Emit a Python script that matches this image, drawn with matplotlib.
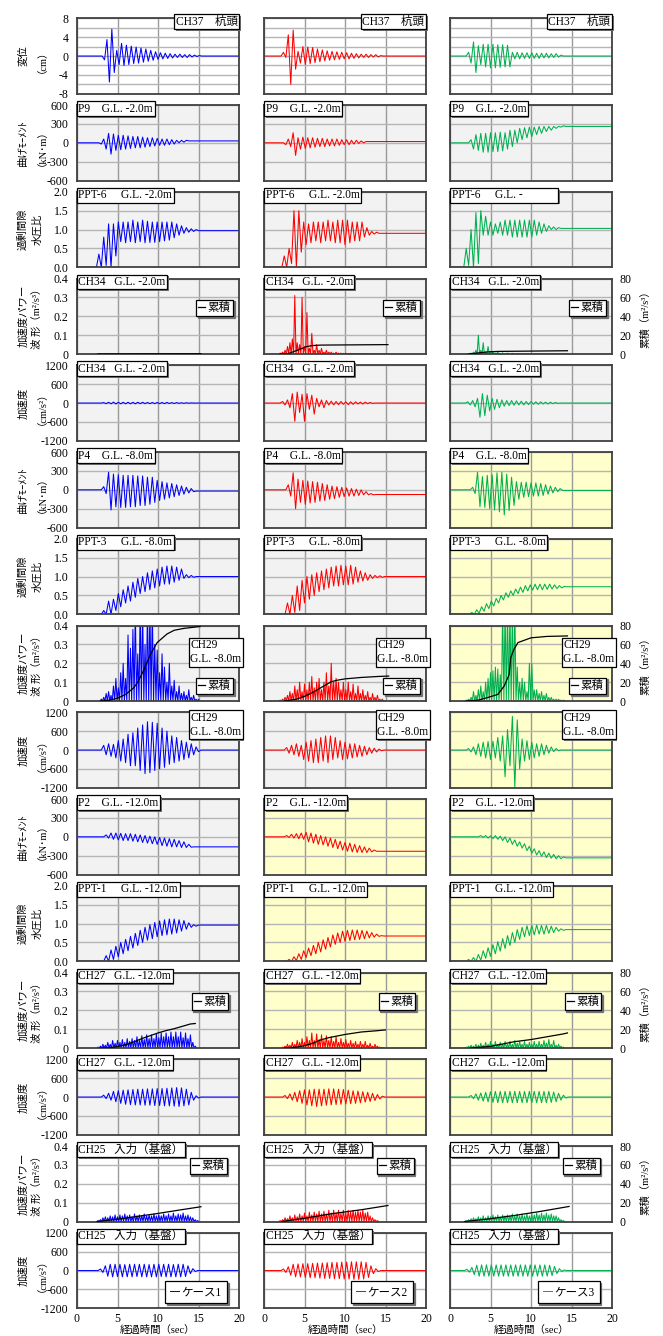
import numpy as np
import matplotlib.pyplot as plt
import matplotlib.patheffects as pe

plt.rcParams['font.family'] = ['Liberation Serif', 'Noto Sans CJK JP']
plt.rcParams['font.size'] = 8
plt.rcParams['axes.unicode_minus'] = False
plt.rcParams['axes.edgecolor'] = '#404040'
plt.rcParams['axes.linewidth'] = 1.3

W, H = 663, 1336
DT = 0.3                      # spacing of read-off peaks (s)
COL_X = [77, 264, 450]        # px, left edge of each column
AX_W, AX_H = 162, 75.5
ROW_TOP, ROW_STEP = 18.3, 86.75
CASE_COLORS = ['#0000ff', '#ff0000', '#00b050']
CASE_NAMES = ['ケース1', 'ケース2', 'ケース3']
G, Y, Wt = '#f2f2f2', '#ffffcc', 'white'
TICK_FS, LAB_FS, YLAB_FS = 8.5, 8.3, 7.5

# ---------------- data (peaks, every DT s from t0) ----------------
# row 1 : CH37 pile head displacement (cm)
disp_t0 = [3.1, 2.1, 2.0]
disp_v = [
    [0, -0.8, 3.5, -5.5, 5.7, -3.5, 1.2, -1.8, 2.7, -2.0, 2.3, -1.8, 2.1, -1.6, 1.9, -1.5, 1.7, -1.3, 1.5, -1.1,
     1.2, -0.9, 0.9, -0.7, 0.7, -0.6, 0.6, -0.5, 0.5, -0.4, 0.4, -0.3, 0.4, -0.3, 0.3, -0.3, 0.3, -0.2, 0.2, -0.1, 0.1, 0],
    [0, 0.8, -0.3, 4.5, -6.0, 5.5, -2.8, 1.0, -1.5, 2.0, -1.8, 1.9, -1.6, 1.8, -1.4, 1.5, -1.2, 1.3, -1.0, 1.1,
     -0.9, 1.0, -0.8, 0.9, -0.7, 0.8, -0.6, 0.7, -0.6, 0.6, -0.5, 0.5, -0.4, 0.4, -0.3, 0.4, -0.3, 0.3, -0.2, 0.3, -0.2, 0.1, 0],
    [0, 0.8, -1.5, 3.0, -3.5, 2.2, -1.8, 2.5, -2.3, 2.5, -2.5, 2.5, -2.5, 2.4, -2.4, 2.4, -2.3, 2.3, -2.3, 0.8,
     -0.6, 0.8, -0.6, 0.7, -0.5, 0.7, -0.5, 0.7, -0.5, 0.6, -0.5, 0.6, -0.4, 0.6, -0.4, 0.5, -0.3, 0.5, -0.2, 0.2, 0],
]
# row 2 : P9 bending moment (kN m)
p9_t0 = [2.7, 2.4, 2.3]
p9_v = [
    [0, -20, 60, -100, 150, -180, 140, -120, 120, -110, 120, -100, 110, -90, 100, -80, 100, -80, 90, -70,
     80, -60, 80, -50, 70, -40, 60, -40, 60, -30, 50, -20, 40, 0, 40, 10, 40, 30, 30, 30],
    [0, -30, 60, -60, 160, -200, 80, -100, 90, -90, 80, -80, 80, -70, 70, -60, 70, -60, 60, -50,
     60, -50, 60, -40, 50, -30, 50, -30, 40, -20, 40, -10, 30, 0, 20, 20],
    [0, 50, -100, 130, -120, 150, -150, 150, -150, 160, -140, 160, -140, 170, -130, 160, -100, 200, -60, 200,
     0, 230, 50, 240, 80, 250, 100, 250, 130, 260, 150, 260, 180, 260, 200, 260, 230, 260, 250, 270, 260],
]
# row 3 : PPT-6 excess pore pressure ratio
ppt6_t0 = [2.4, 2.2, 1.7]
ppt6_v = [
    [0, 0.35, 0, 0.8, 0.05, 1.15, 0.0, 1.15, 0.3, 1.2, 0.68, 1.2, 0.65, 1.2, 0.68, 1.25, 0.65, 1.2, 0.68, 1.25,
     0.65, 1.22, 0.66, 1.2, 0.66, 1.2, 0.68, 1.2, 0.7, 1.2, 0.72, 1.2, 0.78, 1.15, 0.85, 1.1, 0.9, 1.05, 0.93, 1.02, 0.95, 1.0, 0.97],
    [0, 0.3, 0, 0.5, 0.1, 1.5, 0.0, 1.5, 0.4, 1.2, 0.6, 1.15, 0.65, 1.2, 0.7, 1.2, 0.65, 1.2, 0.7, 1.25,
     0.7, 1.2, 0.65, 1.25, 0.65, 1.25, 0.6, 1.25, 0.65, 1.2, 0.7, 1.2, 0.7, 1.2, 0.8, 1.05, 0.85, 0.95, 0.88, 0.93, 0.9],
    [0, 0.5, 0.05, 1.0, 0.0, 1.45, 0.1, 1.5, 0.85, 1.35, 0.85, 1.2, 0.85, 1.15, 0.9, 1.2, 0.85, 1.25, 0.85, 1.25,
     0.8, 1.25, 0.8, 1.25, 0.8, 1.25, 0.8, 1.25, 0.8, 1.25, 0.85, 1.2, 0.9, 1.15, 0.95, 1.1, 1.0, 1.07, 1.0, 1.05, 1.03],
]
# row 4 : CH34 acceleration power (m2/s3) and cumulative (right axis)
ch34p_t0 = [2.6, 2.0, 2.3]
ch34p_v = [
    [0.001, 0.002, 0.001, 0.003, 0.002, 0.002, 0.001, 0.002, 0.001, 0.002, 0.001, 0.002, 0.001, 0.001, 0.002,
     0.001, 0.001, 0.002, 0.001, 0.001, 0.001, 0.002, 0.001, 0.001, 0.001, 0.001, 0.002, 0.001, 0.001, 0.001,
     0.001, 0.001, 0.001, 0.001, 0.001, 0.001, 0.001, 0.001, 0.001, 0.001, 0.001, 0.001, 0.001],
    [0.005, 0.01, 0.02, 0.04, 0.06, 0.08, 0.31, 0.06, 0.05, 0.30, 0.04, 0.22, 0.03, 0.11, 0.02, 0.05, 0.02, 0.03,
     0.01, 0.02, 0.01, 0.01, 0.005, 0.01, 0.005, 0.005, 0.004, 0.005, 0.003, 0.004, 0.003, 0.003, 0.002, 0.003,
     0.002, 0.002, 0.002, 0.002, 0.001, 0.001, 0.001, 0.001, 0.001, 0.001, 0.001],
    [0.002, 0.005, 0.01, 0.02, 0.1, 0.02, 0.06, 0.01, 0.04, 0.01, 0.015, 0.005, 0.01, 0.004, 0.006, 0.003, 0.005,
     0.003, 0.004, 0.002, 0.003, 0.002, 0.003, 0.002, 0.002, 0.002, 0.002, 0.001, 0.002, 0.001, 0.001, 0.001,
     0.001, 0.001, 0.001, 0.001, 0.001, 0.001, 0.001, 0.001, 0.001],
]
ch34_cum_t = [[2.6, 15.3], [2.0, 3.0, 3.8, 4.7, 5.3, 6.0, 7.0, 15.3], [2.3, 3.5, 4.3, 5.0, 6.0, 14.5]]
ch34_cum_v = [[0, 0.3], [0, 0.5, 3, 6, 8, 9, 9.5, 10], [0, 1.2, 2, 2.5, 2.8, 3.5]]
# row 5 : CH34 acceleration (cm/s2)
ch34a_t0 = [3.0, 2.0, 1.9]
ch34a_v = [
    [0, 15, -20, 25, -25, 30, -30, 25, -25, 25, -25, 25, -25, 25, -25, 25, -20, 25, -20, 20,
     -20, 20, -20, 20, -20, 20, -20, 20, -15, 15, -15, 15, -10, 10, -10, 10, -5, 5, 0],
    [0, 50, -60, 100, -150, 300, -580, 350, -300, 280, -580, 300, -200, 250, -350, 150, -120, 100, -150, 80,
     -60, 60, -60, 50, -50, 50, -40, 40, -50, 40, -40, 40, -30, 30, -30, 30, -20, 20, -10, 0],
    [0, 40, -60, 80, -120, 150, -450, 300, -400, 250, -250, 150, -200, 120, -150, 100, -100, 80, -80, 80,
     -70, 70, -60, 60, -60, 50, -50, 50, -40, 40, -40, 40, -30, 30, -30, 30, -20, 20, -10, 0],
]
# row 6 : P4 bending moment
p4_t0 = [3.0, 2.7, 2.5]
p4_v = [
    [0, 50, -60, 280, -320, 250, -270, 240, -280, 230, -280, 230, -270, 230, -270, 220, -250, 220, -250, 200,
     -230, 200, -200, 150, -170, 130, -150, 110, -130, 100, -110, 80, -90, 60, -70, 40, -50, 20, -30, -20],
    [0, 80, -100, 270, -300, 170, -200, 150, -230, 140, -210, 130, -200, 120, -180, 100, -170, 80, -150, 60,
     -140, 50, -120, 40, -110, 30, -100, 20, -100, 10, -90, 0, -80, -30, -80, -60, -80, -75],
    [0, 40, -60, 280, -270, 210, -280, 230, -300, 240, -320, 270, -350, 280, -400, 250, -330, 200, -250, 130,
     -150, 120, -120, 120, -110, 110, -100, 110, -100, 100, -90, 80, -70, 60, -50, 40, -30, 20, -10],
]
# row 7 : PPT-3
ppt3_t0 = [3.0, 2.6, 2.4]
ppt3_v = [
    [0, 0.1, 0, 0.35, 0.0, 0.4, 0.1, 0.55, 0.2, 0.65, 0.3, 0.75, 0.35, 0.85, 0.45, 0.95, 0.55, 1.0, 0.6, 1.1,
     0.65, 1.15, 0.7, 1.2, 0.75, 1.25, 0.8, 1.28, 0.8, 1.28, 0.85, 1.25, 0.9, 1.2, 0.95, 1.05, 0.97, 1.03, 0.98, 1.0],
    [0, 0.3, 0, 0.5, 0.05, 0.75, 0.1, 0.9, 0.3, 1.0, 0.4, 1.05, 0.5, 1.1, 0.6, 1.15, 0.65, 1.2, 0.7, 1.25,
     0.75, 1.28, 0.75, 1.3, 0.78, 1.28, 0.78, 1.3, 0.8, 1.25, 0.85, 1.15, 0.88, 1.1, 0.9, 1.05, 0.95, 1.03, 0.97, 1.02, 0.98, 1.0],
    [0, 0.05, 0, 0.12, 0.03, 0.2, 0.08, 0.28, 0.15, 0.35, 0.22, 0.42, 0.3, 0.5, 0.38, 0.57, 0.45, 0.62, 0.5, 0.67,
     0.55, 0.72, 0.58, 0.76, 0.62, 0.78, 0.64, 0.8, 0.65, 0.8, 0.65, 0.8, 0.66, 0.8, 0.67, 0.78, 0.68, 0.76, 0.7, 0.74, 0.73],
]
# row 8 : CH29 acceleration power
ch29p_t0 = [3.0, 2.0, 2.0]
ch29p_v = [
    [0.01, 0.02, 0.04, 0.05, 0.03, 0.08, 0.12, 0.07, 0.15, 0.2, 0.12, 0.35, 0.28, 0.38, 0.5, 0.25, 0.5, 0.5, 0.3,
     0.5, 0.5, 0.5, 0.3, 0.27, 0.15, 0.25, 0.18, 0.1, 0.2, 0.08, 0.11, 0.05, 0.08, 0.04, 0.05, 0.03, 0.06, 0.02,
     0.03, 0.01, 0.01],
    [0.005, 0.01, 0.02, 0.03, 0.05, 0.04, 0.08, 0.06, 0.1, 0.05, 0.09, 0.06, 0.1, 0.13, 0.07, 0.1, 0.12, 0.06, 0.1,
     0.15, 0.08, 0.2, 0.1, 0.12, 0.1, 0.06, 0.1, 0.06, 0.1, 0.05, 0.09, 0.04, 0.08, 0.04, 0.06, 0.03, 0.05, 0.02,
     0.04, 0.02, 0.03, 0.01, 0.01],
    [0.005, 0.01, 0.02, 0.05, 0.03, 0.06, 0.08, 0.05, 0.1, 0.12, 0.15, 0.16, 0.18, 0.17, 0.14, 0.5, 0.5, 0.5, 0.5,
     0.5, 0.5, 0.18, 0.1, 0.12, 0.1, 0.05, 0.2, 0.2, 0.06, 0.06, 0.04, 0.05, 0.03, 0.04, 0.02, 0.02, 0.01, 0.01,
     0.01, 0.005, 0.005],
]
ch29_cum_t = [[2.9, 4, 5, 6, 7, 7.5, 8.2, 9.1, 9.9, 11.1, 12, 13.2, 15.2],
              [2.5, 4, 5, 6, 7, 8.3, 9, 10, 12, 14, 15.4],
              [2.0, 3.5, 4.6, 5.9, 6.7, 7.3, 7.5, 7.9, 8.4, 10, 12, 14.5]]
ch29_cum_v = [[0, 1, 3, 7, 14, 20, 32, 50, 62, 71, 75, 77, 79],
              [0, 2, 5, 9, 14, 20.5, 22, 23.5, 25, 26, 26.5],
              [0, 1, 3.6, 7, 16, 28, 46, 55, 62, 67, 68.5, 69]]
# row 9 : CH29 acceleration
ch29a_t0 = [3.0, 2.5, 2.0]
ch29a_v = [
    [0, 150, -150, 200, -200, 180, -250, 300, -350, 350, -400, 500, -500, 550, -500, 700, -650, 800, -750, 900,
     -720, 880, -650, 850, -600, 700, -550, 600, -450, 450, -400, 400, -350, 300, -300, 250, -250, 200, -150, 100, -50, 0],
    [0, 80, -100, 150, -150, 200, -200, 150, -300, 250, -350, 300, -400, 350, -400, 400, -350, 450, -400, 450,
     -300, 400, -250, 300, -300, 250, -280, 200, -250, 200, -220, 150, -200, 120, -150, 80, -100, 60, -60, 30, -20, 0],
    [0, 50, -60, 100, -150, 200, -200, 250, -250, 270, -300, 280, -250, 400, -350, 450, -850, 650, -500, 1070,
     -1170, 960, -600, 350, -350, 300, -300, 250, -250, 200, -200, 200, -150, 150, -100, 100, -50, 50, -20, 0],
]
# row 10 : P2 bending moment
p2_t0 = [3.3, 2.5, 3.5]
p2_v = [
    [0, 30, -20, 60, -40, 60, -50, 55, -60, 50, -60, 50, -70, 40, -80, 30, -90, 20, -100, 10,
     -110, 0, -120, -10, -140, -20, -150, -30, -160, -40, -160, -60, -170, -80, -170, -120, -165, -160],
    [0, 20, -10, 40, -20, 50, -30, 60, -40, 70, -80, 60, -100, 40, -120, 20, -130, 0, -150, -20,
     -170, -40, -190, -70, -210, -90, -230, -100, -240, -120, -250, -140, -250, -160, -250, -180, -240, -210, -230],
    [0, 20, -10, 20, -20, 15, -30, 20, -40, 10, -60, 0, -90, -20, -120, -50, -150, -80, -180, -110,
     -220, -150, -260, -190, -290, -220, -310, -240, -330, -260, -340, -280, -350, -300, -350, -320, -335],
]
# row 11 : PPT-1
ppt1_t0 = [3.3, 2.8, 2.0]
ppt1_v = [
    [0, 0.15, 0.0, 0.3, 0.05, 0.4, 0.12, 0.5, 0.2, 0.58, 0.28, 0.66, 0.35, 0.74, 0.42, 0.82, 0.5, 0.9, 0.56, 0.97,
     0.6, 1.03, 0.65, 1.07, 0.68, 1.1, 0.7, 1.12, 0.72, 1.12, 0.75, 1.1, 0.8, 1.08, 0.85, 1.02, 0.9, 0.97, 0.93, 0.96],
    [0, 0.05, 0.0, 0.12, 0.02, 0.2, 0.05, 0.28, 0.1, 0.35, 0.15, 0.42, 0.2, 0.5, 0.25, 0.57, 0.32, 0.63, 0.38, 0.7,
     0.45, 0.75, 0.5, 0.8, 0.53, 0.82, 0.55, 0.83, 0.57, 0.83, 0.58, 0.82, 0.6, 0.8, 0.62, 0.76, 0.64, 0.72, 0.66, 0.68, 0.67],
    [0, 0.05, 0.0, 0.1, 0.0, 0.18, 0.03, 0.28, 0.08, 0.36, 0.13, 0.44, 0.2, 0.52, 0.27, 0.6, 0.34, 0.68, 0.42, 0.76,
     0.5, 0.84, 0.58, 0.9, 0.65, 0.94, 0.68, 0.95, 0.7, 0.96, 0.72, 0.95, 0.72, 0.95, 0.74, 0.93, 0.76, 0.9, 0.8, 0.86, 0.82, 0.84],
]
# row 12 : CH27 acceleration power
ch27p_t0 = [2.6, 2.3, 2.0]
ch27p_v = [
    [0.005, 0.01, 0.02, 0.015, 0.03, 0.02, 0.04, 0.025, 0.04, 0.03, 0.045, 0.03, 0.05, 0.035, 0.05, 0.04, 0.06,
     0.04, 0.065, 0.045, 0.07, 0.05, 0.07, 0.05, 0.075, 0.055, 0.08, 0.06, 0.08, 0.06, 0.085, 0.06, 0.085, 0.06,
     0.085, 0.055, 0.08, 0.05, 0.07, 0.03, 0.01],
    [0.005, 0.01, 0.02, 0.015, 0.03, 0.02, 0.04, 0.03, 0.05, 0.03, 0.06, 0.04, 0.08, 0.04, 0.075, 0.045, 0.07,
     0.04, 0.065, 0.04, 0.06, 0.035, 0.06, 0.03, 0.05, 0.03, 0.045, 0.025, 0.04, 0.025, 0.035, 0.02, 0.035, 0.02,
     0.035, 0.015, 0.025, 0.01, 0.02, 0.01, 0.005, 0.003],
    [0.005, 0.01, 0.015, 0.01, 0.02, 0.015, 0.025, 0.015, 0.03, 0.02, 0.035, 0.02, 0.035, 0.02, 0.03, 0.02, 0.035,
     0.02, 0.035, 0.02, 0.04, 0.025, 0.035, 0.02, 0.035, 0.02, 0.03, 0.02, 0.035, 0.02, 0.035, 0.02, 0.04, 0.025,
     0.045, 0.02, 0.04, 0.015, 0.02, 0.01, 0.005],
]
ch27_cum_t = [[2.8, 4, 5, 6, 7, 8, 9, 10, 11, 12, 13, 14, 14.6],
              [2.5, 4, 5, 6, 7, 8, 10, 12, 14, 15],
              [2.5, 5, 8, 10, 12, 14, 14.5]]
ch27_cum_v = [[0, 0.5, 1.5, 3.5, 6.5, 10, 13, 16, 18.5, 20.5, 23, 25.5, 26],
              [0, 1, 2.5, 5, 8.6, 11, 14.4, 17, 18.4, 19.2],
              [0, 1.8, 6.8, 9, 12, 15, 16]]
# row 13 : CH27 acceleration
ch27a_t0 = [3.0, 2.3, 2.3]
ch27a_v = [
    [0, 60, -50, 120, -100, 180, -150, 200, -200, 220, -230, 230, -240, 240, -250, 250, -250, 250, -260, 260,
     -260, 260, -270, 270, -270, 270, -280, 280, -280, 290, -290, 300, -300, 290, -280, 250, -250, 150, -100, 40, -30, 0],
    [0, 50, -50, 100, -100, 150, -150, 200, -200, 230, -250, 230, -280, 250, -300, 250, -280, 250, -260, 260,
     -250, 260, -240, 250, -230, 240, -220, 220, -210, 200, -200, 190, -180, 170, -160, 150, -140, 120, -110, 80, -60, 30, 0],
    [0, 50, -50, 100, -100, 130, -130, 150, -150, 170, -170, 180, -180, 180, -180, 180, -180, 180, -180, 180,
     -180, 180, -180, 180, -180, 180, -180, 180, -180, 180, -180, 180, -180, 180, -170, 160, -150, 120, -100, 60, -30, 0],
]
# row 14 : CH25 (input, base) acceleration power
ch25p_t0 = [2.6, 2.0, 2.0]
ch25p_v = [
    [0.005, 0.01, 0.02, 0.025, 0.02, 0.03, 0.025, 0.035, 0.025, 0.035, 0.03, 0.04, 0.03, 0.035, 0.025, 0.04, 0.03,
     0.035, 0.03, 0.04, 0.03, 0.035, 0.03, 0.04, 0.03, 0.035, 0.03, 0.04, 0.03, 0.04, 0.03, 0.045, 0.03, 0.04,
     0.035, 0.045, 0.03, 0.035, 0.025, 0.02, 0.01, 0.005],
    [0.005, 0.01, 0.02, 0.015, 0.03, 0.02, 0.035, 0.025, 0.04, 0.03, 0.045, 0.03, 0.05, 0.035, 0.05, 0.04, 0.055,
     0.04, 0.055, 0.04, 0.06, 0.045, 0.06, 0.045, 0.06, 0.045, 0.06, 0.045, 0.06, 0.05, 0.06, 0.05, 0.06, 0.05,
     0.06, 0.045, 0.05, 0.03, 0.02, 0.01, 0.005],
    [0.005, 0.01, 0.015, 0.02, 0.015, 0.025, 0.02, 0.03, 0.02, 0.03, 0.025, 0.035, 0.025, 0.035, 0.025, 0.035, 0.03,
     0.035, 0.03, 0.04, 0.03, 0.04, 0.03, 0.04, 0.03, 0.04, 0.03, 0.04, 0.035, 0.045, 0.035, 0.045, 0.035, 0.045,
     0.035, 0.04, 0.03, 0.03, 0.02, 0.01, 0.005],
]
ch25_cum_t = [[2.5, 5, 7.5, 10, 12.5, 15.3], [2.2, 5, 8.3, 12, 15.3], [1.8, 5, 8, 11, 14.7]]
ch25_cum_v = [[0, 2.5, 5.5, 8.6, 12, 15.7], [0, 3.5, 8.2, 12.5, 17], [0, 3, 6.5, 10.5, 16]]
# row 15 : CH25 acceleration
ch25a_t0 = [2.6, 2.1, 1.8]
ch25a_v = [
    [0, 50, -60, 150, -180, 200, -200, 200, -190, 200, -200, 190, -200, 200, -200, 200, -190, 200, -200, 200,
     -200, 190, -200, 200, -200, 200, -190, 200, -200, 200, -200, 190, -200, 200, -200, 200, -190, 150, -100, 60, -30, 0],
    [0, 50, -60, 120, -150, 200, -200, 210, -200, 220, -220, 220, -230, 230, -230, 240, -240, 240, -250, 250,
     -250, 260, -260, 260, -260, 270, -270, 270, -270, 280, -280, 280, -280, 280, -270, 260, -220, 150, -100, 60, -30, 0],
    [0, 40, -50, 100, -130, 170, -180, 180, -180, 180, -180, 180, -180, 180, -180, 180, -180, 180, -180, 180,
     -180, 180, -180, 180, -180, 180, -180, 180, -180, 180, -180, 180, -180, 180, -180, 170, -160, 130, -100, 60, -30, 20, 0],
]

# axis ticks
x_ticks = [0, 5, 10, 15, 20]
disp_ticks, disp_grid = [-8, -4, 0, 4, 8], [-6, -2, 2, 6]
mom_ticks = [-600, -300, 0, 300, 600]
ppt_ticks, ppt_ticklabels = [0, 0.5, 1.0, 1.5, 2.0], ['0.0', '0.5', '1.0', '1.5', '2.0']
pow_ticks, pow_ticklabels = [0, 0.1, 0.2, 0.3, 0.4], ['0', '0.1', '0.2', '0.3', '0.4']
cum_ticks = [0, 20, 40, 60, 80]
acc_ticks = [-1200, -600, 0, 600, 1200]

# ---------------- layout / styling ----------------
KINDS = {
    'disp': ((-8, 8), disp_ticks, [str(t) for t in disp_ticks], disp_grid, '変位\n（cm）'),
    'mom': ((-600, 600), mom_ticks, [str(t) for t in mom_ticks], [], '曲げﾓｰﾒﾝﾄ\n（kN･m）'),
    'ppt': ((0, 2), ppt_ticks, ppt_ticklabels, [], '過剰間隙\n水圧比'),
    'pow': ((0, 0.4), pow_ticks, pow_ticklabels, [], '加速度パワー\n波 形（m²/s³）'),
    'acc': ((-1200, 1200), acc_ticks, [str(t) for t in acc_ticks], [], '加速度\n（cm/s²）'),
}

ch29 = 'CH29\nG.L. -8.0m'
rows = [
    ('disp', disp_t0, disp_v, None, None, ['CH37    杭頭'] * 3, 'tr', [Wt, Wt, Wt]),
    ('mom', p9_t0, p9_v, None, None, ['P9    G.L. -2.0m'] * 3, 'tl', [G, G, G]),
    ('ppt', ppt6_t0, ppt6_v, None, None,
     ['PPT-6     G.L. -2.0m', 'PPT-6     G.L. -2.0m', 'PPT-6     G.L. -            '], 'tl', [G, G, G]),
    ('pow', ch34p_t0, ch34p_v, ch34_cum_t, ch34_cum_v, ['CH34   G.L. -2.0m'] * 3, 'tl', [G, G, G]),
    ('acc', ch34a_t0, ch34a_v, None, None, ['CH34   G.L. -2.0m'] * 3, 'tl', [G, G, G]),
    ('mom', p4_t0, p4_v, None, None, ['P4    G.L. -8.0m'] * 3, 'tl', [G, G, Y]),
    ('ppt', ppt3_t0, ppt3_v, None, None, ['PPT-3     G.L. -8.0m'] * 3, 'tl', [G, G, Y]),
    ('pow', ch29p_t0, ch29p_v, ch29_cum_t, ch29_cum_v, [ch29] * 3, (0.69, 0.84), [G, G, Y]),
    ('acc', ch29a_t0, ch29a_v, None, None, [ch29] * 3, (0.69, 1.027), [G, G, Y]),
    ('mom', p2_t0, p2_v, None, None, ['P2    G.L. -12.0m'] * 3, 'tl', [G, Y, Y]),
    ('ppt', ppt1_t0, ppt1_v, None, None, ['PPT-1     G.L. -12.0m'] * 3, 'tl', [G, Y, Y]),
    ('pow', ch27p_t0, ch27p_v, ch27_cum_t, ch27_cum_v, ['CH27   G.L. -12.0m'] * 3, 'tl', [G, Y, Y]),
    ('acc', ch27a_t0, ch27a_v, None, None, ['CH27   G.L. -12.0m'] * 3, 'tl', [G, Y, Y]),
    ('pow', ch25p_t0, ch25p_v, ch25_cum_t, ch25_cum_v, ['CH25   入力（基盤）'] * 3, 'tl', [Wt, Wt, Wt]),
    ('acc', ch25a_t0, ch25a_v, None, None, ['CH25   入力（基盤）'] * 3, 'tl', [Wt, Wt, Wt]),
]
# position of the "累積" legend box (right edge, vertical centre) for each power row
cum_leg_pos = {3: (0.963, 0.61), 7: (0.963, 0.2), 11: (0.935, 0.615), 13: (0.923, 0.737)}

SHADOW = [pe.withSimplePatchShadow(offset=(1.2, -1.2), shadow_rgbFace='0.45', alpha=1)]
LEG_SHADOW = {'ox': 1.2, 'oy': -1.2, 'facecolor': '0.45', 'edgecolor': '0.45', 'alpha': 1}


def wave_xy(t0, v):
    t = t0 + DT * np.arange(len(v))
    return np.r_[0, t, 20], np.r_[v[0], v, v[-1]]


def spike_xy(t0, h):
    t = t0 + DT * np.arange(len(h))
    x = np.empty(2 * len(h) + 1)
    y = np.zeros_like(x)
    x[0::2] = np.r_[t - DT / 2, t[-1] + DT / 2]
    x[1::2] = t
    y[1::2] = h
    return x, y


def put_label(ax, text, where):
    kw = dict(xycoords='axes fraction', textcoords='offset pixels', fontsize=LAB_FS, zorder=10,
              linespacing=1.25, bbox=dict(boxstyle='square,pad=0.12', fc='white', ec='black', lw=0.9))
    if where == 'tl':
        t = ax.annotate(text, (0, 1), xytext=(1.5, 2.5), ha='left', va='top', **kw)
    elif where == 'tr':
        t = ax.annotate(text, (1, 1), xytext=(-1.5, 2.5), ha='right', va='top', **kw)
    else:
        t = ax.annotate(text, where, xytext=(1.5, -1.5), ha='left', va='top', **kw)
    t.get_bbox_patch().set_path_effects(SHADOW)


def box_legend(ax, loc, anchor, hl, bp):
    leg = ax.legend(loc=loc, bbox_to_anchor=anchor, borderaxespad=0, frameon=True, fancybox=False,
                    edgecolor='black', framealpha=1, borderpad=bp, handlelength=hl, handletextpad=0.2,
                    fontsize=LAB_FS, shadow=LEG_SHADOW)
    leg.get_frame().set_linewidth(0.9)
    return leg


fig = plt.figure(figsize=(W / 100, H / 100), dpi=100)

for r, (kind, t0s, vals, cum_t, cum_v, labels, where, bgs) in enumerate(rows):
    ylim, yt, ytl, ygrid, ylab = KINDS[kind]
    top = ROW_TOP + ROW_STEP * r
    last = (r == len(rows) - 1)
    for c in range(3):
        ax = fig.add_axes([COL_X[c] / W, 1 - (top + AX_H) / H, AX_W / W, AX_H / H])
        ax.set_facecolor(bgs[c])
        ax.set_xlim(0, 20)
        ax.set_ylim(*ylim)
        ax.set_xticks(x_ticks)
        ax.set_yticks(yt)
        ax.set_yticklabels(ytl)
        ax.set_yticks(ygrid, minor=True)
        ax.grid(True, axis='x', color='#9a9a9a', lw=1.0)
        ax.grid(True, axis='y', which='both', color='#b5b5b5', lw=1.0)
        ax.set_axisbelow(True)
        ax.tick_params(which='both', length=0, labelsize=TICK_FS, pad=6)
        ax.tick_params(axis='x', pad=3.5)
        ax.tick_params(axis='y', labelleft=(c == 0))
        ax.tick_params(axis='x', labelbottom=last)

        col = CASE_COLORS[c]
        if kind == 'pow':
            xs, ys = spike_xy(t0s[c], vals[c])
            ax.plot(xs, ys, color=col, lw=0.75)
            tw = ax.twinx()
            tw.set_ylim(0, 80)
            tw.set_yticks(cum_ticks)
            tw.tick_params(length=0, labelsize=TICK_FS, pad=5.5, labelright=(c == 2))
            for s in tw.spines.values():
                s.set_visible(False)
            tw.plot(cum_t[c], cum_v[c], color='black', lw=0.9, label='累積')
            lx, ly = cum_leg_pos[r]
            box_legend(tw, 'center right', (lx, ly), 0.6, 0.2)
            top_ax = tw
        else:
            xs, ys = wave_xy(t0s[c], vals[c])
            ax.plot(xs, ys, color=col, lw=0.75, label=CASE_NAMES[c])
            top_ax = ax
            if last:
                box_legend(ax, 'lower right', ((0.926, 0.919, 0.924)[c], 0.066), 0.8, 0.45)
        put_label(top_ax, labels[c], where)

        if last:
            ax.set_xlabel('経過時間（sec）', fontsize=7.5, labelpad=0)

    yc = 1 - (top + AX_H / 2) / H
    fig.text(30 / W, yc, ylab, rotation=90, ha='center', va='center', multialignment='center',
             fontsize=YLAB_FS, linespacing=1.5)
    if kind == 'pow':
        fig.text(645 / W, yc, '累積（m²/s³）', rotation=90, ha='center', va='center', fontsize=YLAB_FS)

fig.savefig('out.png', dpi=100)
